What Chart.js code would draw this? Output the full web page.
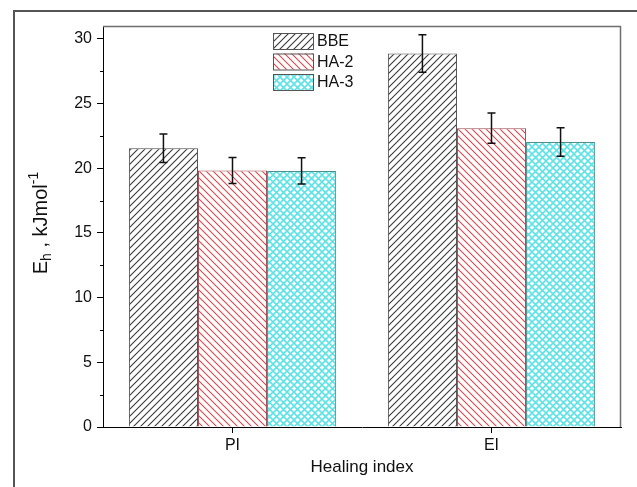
<!DOCTYPE html>
<html>
<head>
<meta charset="utf-8">
<script src="https://cdn.jsdelivr.net/npm/chart.js@4.4.1/dist/chart.umd.min.js"></script>
<style>
html,body{margin:0;padding:0;background:#fff;}
#wrap{width:637px;height:487px;position:relative;}
</style>
</head>
<body>
<div id="wrap"><canvas id="c" width="637" height="487"></canvas></div>
<script>
const categories = ['PI', 'EI'];
const seriesLabels = ['BBE', 'HA-2', 'HA-3'];
const bbeValues = [21.55, 28.87];
const ha2Values = [19.83, 23.10];
const ha3Values = [19.80, 22.04];
const bbeErrors = [1.10, 1.45];
const ha2Errors = [1.00, 1.17];
const ha3Errors = [1.02, 1.10];
const yTicks = [0, 5, 10, 15, 20, 25, 30];
const yMinorTicks = [2.5, 7.5, 12.5, 17.5, 22.5, 27.5];

function hatch(color, dir, cross, bg) {
  const s = 7;
  const c = document.createElement('canvas');
  c.width = s; c.height = s;
  const g = c.getContext('2d');
  g.fillStyle = bg; g.fillRect(0, 0, s, s);
  g.strokeStyle = color; g.lineWidth = cross ? 1.6 : 1.1;
  const fwd = () => {
    g.beginPath();
    g.moveTo(-1, s + 1); g.lineTo(s + 1, -1);
    g.moveTo(-1, 1); g.lineTo(1, -1);
    g.moveTo(s - 1, s + 1); g.lineTo(s + 1, s - 1);
    g.stroke();
  };
  const back = () => {
    g.beginPath();
    g.moveTo(-1, -1); g.lineTo(s + 1, s + 1);
    g.moveTo(s - 1, -1); g.lineTo(s + 1, 1);
    g.moveTo(-1, s - 1); g.lineTo(1, s + 1);
    g.stroke();
  };
  if (dir === '/' || cross) fwd();
  if (dir === '\\' || cross) back();
  return g.createPattern(c, 'repeat');
}

const ctx0 = document.getElementById('c').getContext('2d');
const patBBE = hatch('#3a3a3a', '/', false, '#ffffff');
const patHA2 = hatch('#e0474f', '\\', false, '#ffffff');
const patHA3 = hatch('#5fe3e6', 'x', true, '#ffffff');

const errorSets = [bbeErrors, ha2Errors, ha3Errors];
const FONT = '"Liberation Sans", Arial, sans-serif';

const framePlugin = {
  id: 'frame',
  beforeDraw(chart) {
    const c = chart.ctx;
    c.save();
    c.fillStyle = '#fff';
    c.fillRect(0, 0, chart.width, chart.height);
    c.strokeStyle = '#555';
    c.lineWidth = 2;
    c.beginPath();
    c.moveTo(14, 487); c.lineTo(14, 11); c.lineTo(637, 11);
    c.stroke();
    c.restore();
  },
  afterDraw(chart) {
    const c = chart.ctx;
    const a = chart.chartArea;
    const y = chart.scales.y;
    c.save();
    c.strokeStyle = '#6e6e6e';
    c.lineWidth = 1.5;
    c.beginPath();
    c.moveTo(a.left, a.top + 0.5); c.lineTo(a.right - 0.5, a.top + 0.5); c.lineTo(a.right - 0.5, a.bottom);
    c.stroke();
    c.strokeStyle = '#000'; c.lineWidth = 1;
    c.beginPath();
    yMinorTicks.forEach(v => {
      const py = Math.round(y.getPixelForValue(v)) + 0.5;
      c.moveTo(a.left - 3, py); c.lineTo(a.left, py);
    });
    c.stroke();
    c.strokeStyle = '#111'; c.lineWidth = 1.5;
    chart.data.datasets.forEach((ds, di) => {
      const meta = chart.getDatasetMeta(di);
      meta.data.forEach((bar, i) => {
        const v = ds.data[i], e = errorSets[di][i];
        const px = bar.x;
        const t = y.getPixelForValue(v + e), b = y.getPixelForValue(v - e);
        c.beginPath();
        c.moveTo(px, t); c.lineTo(px, b);
        c.moveTo(px - 4, t); c.lineTo(px + 4, t);
        c.moveTo(px - 4, b); c.lineTo(px + 4, b);
        c.stroke();
      });
    });
    const pats = chart.data.datasets.map(d => d.backgroundColor);
    c.font = '16px ' + FONT;
    c.textBaseline = 'middle';
    c.textAlign = 'left';
    chart.data.datasets.forEach((ds, i) => {
      const by = 33 + i * 20.5;
      c.fillStyle = pats[i];
      c.fillRect(273, by, 40, 16);
      c.strokeStyle = '#555'; c.lineWidth = 1;
      c.strokeRect(273.5, by + 0.5, 40, 16);
      c.fillStyle = '#111';
      c.fillText(ds.label, 317, by + 9);
    });
    c.fillStyle = '#111';
    c.textAlign = 'center';
    c.textBaseline = 'alphabetic';
    c.font = '17px ' + FONT;
    c.fillText('Healing index', (a.left + a.right) / 2, 472);
    c.save();
    c.translate(47, 223);
    c.rotate(-Math.PI / 2);
    const big = '20px ' + FONT;
    const small = '14px ' + FONT;
    const parts = [
      {t: 'E', f: big, dy: 0},
      {t: 'h', f: small, dy: 4},
      {t: ' , kJmol', f: big, dy: 0},
      {t: '-1', f: small, dy: -9}
    ];
    let total = 0;
    parts.forEach(p => { c.font = p.f; p.w = c.measureText(p.t).width; total += p.w; });
    let cx = -total / 2;
    c.textAlign = 'left';
    parts.forEach(p => { c.font = p.f; c.fillText(p.t, cx, p.dy); cx += p.w; });
    c.restore();
    c.restore();
  }
};

new Chart(ctx0, {
  type: 'bar',
  data: {
    labels: categories,
    datasets: [
      {label: seriesLabels[0], data: bbeValues, backgroundColor: patBBE, borderColor: '#4a4a4a', borderWidth: 1},
      {label: seriesLabels[1], data: ha2Values, backgroundColor: patHA2, borderColor: '#9b4a4e', borderWidth: 1},
      {label: seriesLabels[2], data: ha3Values, backgroundColor: patHA3, borderColor: '#4f8f90', borderWidth: 1}
    ]
  },
  options: {
    responsive: false,
    animation: false,
    devicePixelRatio: 1,
    layout: {padding: {left: 0, right: 16, top: 26, bottom: 0}},
    plugins: {legend: {display: false}, tooltip: {enabled: false}},
    datasets: {bar: {barPercentage: 1.0, categoryPercentage: 0.8}},
    scales: {
      x: {
        offset: true,
        grid: {display: true, drawOnChartArea: false, offset: false, tickLength: 6, color: '#000'},
        border: {display: true, color: '#000', width: 1},
        ticks: {color: '#111', font: {family: FONT, size: 16}, padding: 3},
        afterFit(s) { s.height = 60; }
      },
      y: {
        min: 0, max: 31,
        afterBuildTicks(s) { s.ticks = yTicks.map(v => ({value: v})); },
        grid: {display: true, drawOnChartArea: false, tickLength: 6, color: '#000'},
        border: {display: true, color: '#000', width: 1},
        ticks: {color: '#111', font: {family: FONT, size: 16}, padding: 5},
        afterFit(s) { s.width = 103; }
      }
    }
  },
  plugins: [framePlugin]
});
</script>
</body>
</html>
